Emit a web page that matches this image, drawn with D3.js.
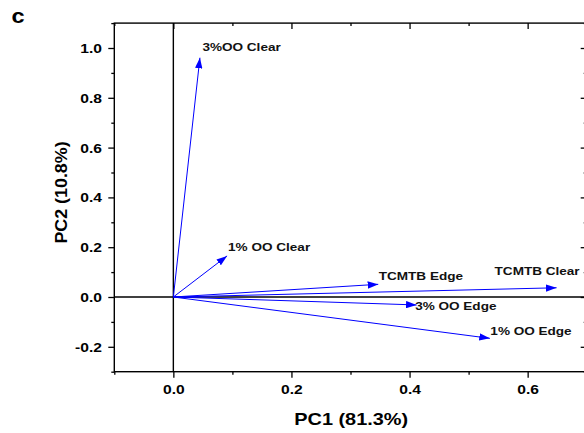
<!DOCTYPE html>
<html>
<head>
<meta charset="utf-8">
<script src="https://cdn.jsdelivr.net/npm/d3@7/dist/d3.min.js"></script>
<style>
  html, body { margin: 0; padding: 0; background: #fff; }
  svg { display: block; font-family: "Liberation Sans", Arial, sans-serif; font-weight: bold; }
</style>
</head>
<body>
<svg id="chart" width="584" height="433"></svg>
<script>
// ---- data ----
const loadingLabels = ["3%OO Clear", "1% OO Clear", "TCMTB Edge", "TCMTB Clear", "3% OO Edge", "1% OO Edge"];
const pc1Values = [0.045, 0.091, 0.347, 0.649, 0.412, 0.536];
const pc2Values = [0.961, 0.165, 0.051, 0.037, -0.032, -0.166];
const xMajorTicks = [0.0, 0.2, 0.4, 0.6];
const xMinorTicks = [-0.1, 0.1, 0.3, 0.5, 0.7];
const yMajorTicks = [-0.2, 0.0, 0.2, 0.4, 0.6, 0.8, 1.0];
const yMinorTicks = [-0.3, -0.1, 0.1, 0.3, 0.5, 0.7, 0.9, 1.1];
const xTitle = "PC1 (81.3%)";
const yTitle = "PC2 (10.8%)";
const panelLetter = "c";

// ---- layout (pixel offsets of labels relative to arrow tips) ----
const labelDx = [2.5, 1, 0.5, -62, -1.5, 0.5];
const labelDy = [-7, -5.3, -4.3, -12.7, 5, -3.3];

(function () {
const svg = d3.select("#chart");
const pLeft = 114.3, pRight = 586.7, pTop = 23.1, pBottom = 371.7;
const x = d3.scaleLinear().domain([-0.1, 0.7]).range([pLeft, pRight]);
const y = d3.scaleLinear().domain([-0.3, 1.1]).range([pBottom, pTop]);
const fmt = d => d3.format(".1f")(d).replace("\u2212", "-");
const SX = 1.25;

// zero lines
svg.append("line").attr("x1", x(0)).attr("x2", x(0)).attr("y1", y(-0.3)).attr("y2", y(1.1))
  .attr("stroke", "#000").attr("stroke-width", 1.4);
svg.append("line").attr("x1", x(-0.1)).attr("x2", x(0.7)).attr("y1", y(0)).attr("y2", y(0))
  .attr("stroke", "#000").attr("stroke-width", 1.4);

function styleAxis(g) {
  g.select(".domain").remove();
  g.selectAll(".tick line").attr("stroke", "#000").attr("stroke-width", 1.3);
  g.selectAll(".tick text").attr("fill", "#000").style("font-size", "12.5px").style("font-weight", "bold")
    .style("font-family", "'Liberation Sans', Arial, sans-serif");
}

// bottom
const gB = svg.append("g").attr("transform", `translate(0,${pBottom})`)
  .call(d3.axisBottom(x).tickValues(xMajorTicks).tickSize(6).tickFormat(fmt)).call(styleAxis);
gB.selectAll(".tick text").attr("y", 0).attr("dy", 0)
  .attr("transform", `translate(0,22.5) scale(${SX},1)`);
svg.append("g").attr("transform", `translate(0,${pBottom})`)
  .call(d3.axisBottom(x).tickValues(xMinorTicks).tickSize(3).tickFormat("")).call(styleAxis);
// top
svg.append("g").attr("transform", `translate(0,${pTop})`)
  .call(d3.axisTop(x).tickValues(xMajorTicks).tickSize(-6).tickFormat("")).call(styleAxis);
svg.append("g").attr("transform", `translate(0,${pTop})`)
  .call(d3.axisTop(x).tickValues(xMinorTicks).tickSize(-3).tickFormat("")).call(styleAxis);
// left
const gL = svg.append("g").attr("transform", `translate(${pLeft},0)`)
  .call(d3.axisLeft(y).tickValues(yMajorTicks).tickSize(6).tickFormat(fmt)).call(styleAxis);
gL.selectAll(".tick text").attr("x", 0).attr("dy", 0)
  .attr("transform", `translate(-12.3,4.4) scale(${SX},1)`);
svg.append("g").attr("transform", `translate(${pLeft},0)`)
  .call(d3.axisLeft(y).tickValues(yMinorTicks).tickSize(3).tickFormat("")).call(styleAxis);
// right
svg.append("g").attr("transform", `translate(${pRight},0)`)
  .call(d3.axisRight(y).tickValues(yMajorTicks).tickSize(-6).tickFormat("")).call(styleAxis);
svg.append("g").attr("transform", `translate(${pRight},0)`)
  .call(d3.axisRight(y).tickValues(yMinorTicks).tickSize(-3).tickFormat("")).call(styleAxis);

// frame
svg.append("rect").attr("x", pLeft).attr("y", pTop).attr("width", pRight - pLeft).attr("height", pBottom - pTop)
  .attr("fill", "none").attr("stroke", "#000").attr("stroke-width", 1.4);

// arrow marker
svg.append("defs").append("marker")
  .attr("id", "ah").attr("markerUnits", "userSpaceOnUse")
  .attr("viewBox", "0 0 10.6 7.4").attr("markerWidth", 10.6).attr("markerHeight", 7.4)
  .attr("refX", 10.6).attr("refY", 3.7).attr("orient", "auto")
  .append("path").attr("d", "M0,0 L10.6,3.7 L0,7.4 Z").attr("fill", "#0000ff");

const data = loadingLabels.map((name, i) => ({ name, pc1: pc1Values[i], pc2: pc2Values[i], dx: labelDx[i], dy: labelDy[i] }));

svg.append("g").selectAll("line").data(data).join("line")
  .attr("x1", x(0)).attr("y1", y(0))
  .attr("x2", d => x(d.pc1)).attr("y2", d => y(d.pc2))
  .attr("stroke", "#0000ff").attr("stroke-width", 1)
  .attr("marker-end", "url(#ah)");

svg.append("g").selectAll("text").data(data).join("text")
  .attr("transform", d => `translate(${x(d.pc1) + d.dx},${y(d.pc2) + d.dy}) scale(1.2,1)`)
  .style("font-size", "11.3px").attr("fill", "#111")
  .text(d => d.name);

// axis titles
svg.append("text").attr("transform", `translate(351.2,425) scale(1.22,1)`)
  .attr("text-anchor", "middle").style("font-size", "16.3px").attr("fill", "#000").text(xTitle);
svg.append("text").attr("transform", `translate(67.3,192.5) rotate(-90) scale(1.05,1)`)
  .attr("text-anchor", "middle").style("font-size", "17px").attr("fill", "#000").text(yTitle);

// panel letter
svg.append("text").attr("transform", `translate(11.5,23.3) scale(1.12,1)`)
  .style("font-size", "21px").attr("fill", "#000").text(panelLetter);
})();
</script>
</body>
</html>
